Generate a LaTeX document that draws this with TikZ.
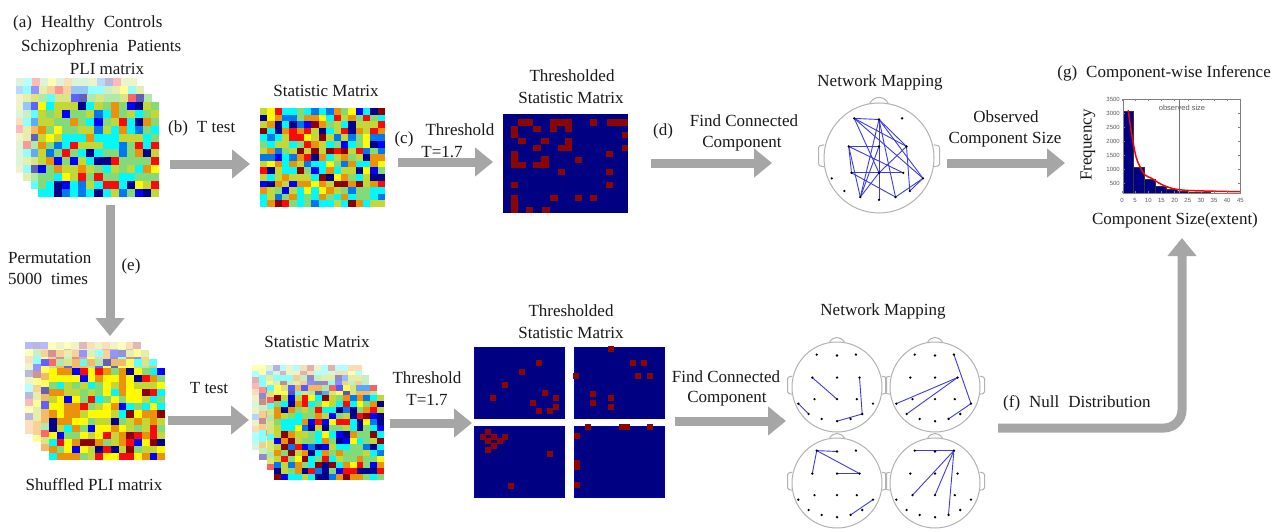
\documentclass[tikz,border=0pt]{standalone}
\usepackage{fontspec}
\setmainfont{Liberation Serif}
\setsansfont{Liberation Sans}
\usetikzlibrary{arrows.meta}
\definecolor{jdb}{RGB}{0,0,140}
\definecolor{jb}{RGB}{0,0,255}
\definecolor{jlb}{RGB}{0,120,240}
\definecolor{jc}{RGB}{0,250,250}
\definecolor{jg}{RGB}{130,218,120}
\definecolor{jyg}{RGB}{195,215,55}
\definecolor{jy}{RGB}{255,250,0}
\definecolor{jo}{RGB}{235,145,10}
\definecolor{jr}{RGB}{250,10,10}
\definecolor{jdr}{RGB}{140,0,0}
\definecolor{agray}{RGB}{166,166,166}
\definecolor{navyb}{RGB}{0,0,130}
\definecolor{darkr}{RGB}{140,5,5}
\definecolor{edgeb}{RGB}{60,60,225}
\definecolor{headg}{RGB}{178,178,178}
\definecolor{txt}{RGB}{25,25,25}
\pgfmathdeclarerandomlist{pli}{{jc}{jg}{jg}{jg}{jyg}{jyg}{jc}{jb}{jlb}{jy}{jo}{jdb}{jr}{jg}{jc}{jyg}}
\pgfmathdeclarerandomlist{stat}{{jdb}{jb}{jlb}{jc}{jc}{jg}{jyg}{jy}{jo}{jo}{jr}{jdr}{jc}{jg}{jyg}}
\pgfmathdeclarerandomlist{shuf}{{jy}{jy}{jo}{jo}{jr}{jdr}{jg}{jyg}{jyg}{jc}{jb}{jo}{jy}{jg}{jdb}}
\newcommand{\cellmat}[8]{%
  \pgfmathsetmacro{\cw}{#3/#5}\pgfmathsetmacro{\ch}{#4/#6}%
  \fill[white] (#1,#2) rectangle ++(#3,#4);
  \foreach \i in {1,...,#5}{\foreach \j in {1,...,#6}{%
    \pgfmathrandomitem{\cc}{#7}%
    \fill[fill=\cc!#8!white] ({#1+(\i-1)*\cw},{#2+(\j-1)*\ch}) rectangle ++({\cw+0.4},{\ch+0.4});
  }}}
\newcommand{\headmap}[4]{%
  \begin{scope}[shift={(#2,#3)}, x=#4pt, y=#4pt]
    \draw[headg, line width=1pt] (0,0) circle [radius=1];
    \draw[headg, line width=1pt] (-0.17,0.985) .. controls (-0.1,1.14) and (0.1,1.14) .. (0.17,0.985);
    \draw[headg, line width=1pt, rounded corners=1.5pt] (-0.995,0.24) -- (-1.1,0.22) -- (-1.1,-0.14) -- (-0.995,-0.16);
    \draw[headg, line width=1pt, rounded corners=1.5pt] (0.995,0.24) -- (1.1,0.22) -- (1.1,-0.14) -- (0.995,-0.16);
    \foreach \n/\ex/\ey in {1/-0.45/0.72, 2/0/0.70, 3/0.42/0.72, 4/-0.55/0.21, 5/0/0.21, 6/0.5/0.21,
      7/-0.86/-0.37, 8/-0.5/-0.27, 9/0/-0.27, 10/0.44/-0.27, 11/0.8/-0.37,
      12/-0.63/-0.6, 13/-0.34/-0.71, 14/0/-0.76, 15/0.3/-0.71, 16/0.56/-0.6}
      {\coordinate (#1e\n) at (\ex,\ey);}
  \end{scope}}
\newcommand{\headedges}[2]{%
  \foreach \p/\q in {#2}{\draw[edgeb, line width=0.9pt] (#1e\p) -- (#1e\q);}
  \foreach \n in {1,...,16}{\fill[black] (#1e\n) circle [radius=1.3pt];}}
\tikzset{
  lbl/.style={font=\fontsize{17}{20}\selectfont, inner sep=0pt, text=txt},
  tick/.style={font=\sffamily\fontsize{6}{7}\selectfont, inner sep=0pt, text=black!65},
  bigarrow/.style={draw=agray, line width=9pt, -{Triangle[width=28pt,length=18pt]}},
}
\begin{document}
\begin{tikzpicture}[x=1pt, y=-1pt]
\useasboundingbox (0,0) rectangle (1274,532);
\fill[white] (0,0) rectangle (1274,532);
\pgfmathsetseed{4711}
% ---------- top-left PLI stack
\cellmat{16}{78}{121}{95}{15}{12}{pli}{28}
\cellmat{23}{86}{121}{95}{15}{12}{pli}{42}
\cellmat{31}{94}{121}{95}{15}{12}{pli}{62}
\cellmat{38}{102}{121}{95}{15}{12}{pli}{100}
\node[lbl, anchor=west] (ta) at (13,23) {(a)\; Healthy\; Controls};
\node[lbl, anchor=west] (tb) at (21,47) {Schizophrenia\; Patients};
\node[lbl] (tc) at (107,69) {PLI matrix};
% ---------- top statistic matrix
\cellmat{260}{108}{125}{99}{17}{15}{stat}{100}
\node[lbl] (tsm) at (326,91) {Statistic Matrix};
% ---------- top thresholded
\fill[navyb] (503,114) rectangle (628,213);
\foreach \a/\b/\c/\d in {518/119/533/126, 550/119/572/126, 590/119/597/126, 607/119/628/126,
  511/126/518/138, 533/126/541/132, 550/126/557/132, 565/126/572/132, 622/132/628/138,
  518/138/526/144, 541/138/549/144, 565/138/572/145, 558/145/572/151, 533/145/541/151, 622/145/628/151,
  511/151/518/168, 518/162/526/168, 541/156/549/163, 533/162/549/168, 575/157/582/163, 606/151/613/157,
  558/169/565/175, 606/169/613/175, 511/182/518/188, 606/182/613/188,
  550/195/558/201, 575/195/582/201, 590/195/597/201, 511/195/518/213, 526/207/533/213, 542/207/550/213}
  {\fill[darkr] (\a,\b) rectangle (\c,\d);}
\node[lbl] (tth1) at (572,76) {Thresholded};
\node[lbl] (tth2) at (571,98) {Statistic Matrix};
% ---------- top head
\headmap{T}{879}{158}{55}
\headedges{T}{1/2, 1/6, 1/11, 1/9, 2/14, 2/13, 2/15, 2/6, 2/11, 4/5, 4/8, 4/13, 4/10, 8/9, 8/15, 8/10, 9/13, 11/15, 11/16, 6/16, 5/13, 6/9}
\node[lbl] (tnm) at (880,82) {Network Mapping};
% ---------- histogram
\begin{scope}
\foreach \a/\b/\t in {1123/1133/111, 1133/1144/167, 1144/1155/179, 1155/1166/186, 1166/1177/189.3, 1177/1188/190.7, 1188/1199/191.8, 1199/1210/192.3}
  {\filldraw[fill=navyb, draw=black!80, line width=0.4pt] (\a,193) rectangle (\b,\t);}
\draw[black!55, line width=0.9pt] (1179,99) -- (1179,193);
\draw[red, line width=1.5pt] plot[smooth, tension=0.6] coordinates {(1128.3,110) (1130,123.3) (1132.7,140) (1136,156.7) (1140,166.7) (1145,175) (1151.7,178.3) (1158.3,182.7) (1166.7,186.7) (1176.7,189.3) (1193.3,190.7) (1240,191.7)};
\draw[black!50, line width=0.5pt] (1123,99) rectangle (1240,193);
\foreach \v in {0,5,...,45}{
  \draw[black!50, line width=0.4pt] ({1122+\v*2.63},99) -- ++(0,2);
  \draw[black!50, line width=0.4pt] ({1122+\v*2.63},193) -- ++(0,-2);
  \node[tick] at ({1122+\v*2.63},200) {\v};}
\foreach \v/\yy in {3500/99.3, 3000/113.3, 2500/127.3, 2000/141.3, 1500/155.3, 1000/169.3, 500/183.3}{
  \draw[black!50, line width=0.4pt] (1123,\yy) -- ++(2,0);
  \draw[black!50, line width=0.4pt] (1240,\yy) -- ++(-2,0);
  \node[tick, anchor=east] at (1120,\yy) {\v};}
\node[font=\sffamily\fontsize{7.5}{8}\selectfont, text=black!65, inner sep=0pt] (obs) at (1182,108) {observed size};
\end{scope}
\node[lbl, anchor=east] (tg) at (1271,73) {(g)\; Component-wise Inference};
\node[lbl, rotate=90] (tfreq) at (1088,145) {Frequency};
\node[lbl] (tcs) at (1175,220) {Component Size(extent)};
% ---------- top arrows and labels
\coordinate (bA) at (170,164); \coordinate (bB) at (250,164);
\draw[bigarrow] (bA) -- (bB);
\node[lbl, anchor=west] (tbt) at (168,128) {(b)\; T test};
\coordinate (cA) at (398,162); \coordinate (cB) at (493,162);
\draw[bigarrow] (cA) -- (cB);
\node[lbl] (tcl) at (404,139) {(c)};
\node[lbl] (tcth) at (460,130) {Threshold};
\node[lbl] (tct) at (442,152) {T=1.7};
\coordinate (dA) at (651,163); \coordinate (dB) at (772,163);
\draw[bigarrow] (dA) -- (dB);
\node[lbl] (tdl) at (663,131) {(d)};
\node[lbl] (tdf) at (744,121) {Find Connected};
\node[lbl] (tdc) at (742,144) {Component};
\coordinate (oA) at (947,163); \coordinate (oB) at (1065,163);
\draw[bigarrow] (oA) -- (oB);
\node[lbl] (tob) at (1006,117) {Observed};
\node[lbl] (tocs) at (1005,140) {Component Size};
% ---------- permutation arrow
\coordinate (eA) at (110,205); \coordinate (eB) at (110,336);
\draw[bigarrow] (eA) -- (eB);
\node[lbl, anchor=west] (tperm) at (8,258) {Permutation};
\node[lbl, anchor=west] (t5000) at (8,279) {5000\; times};
\node[lbl] (tel) at (131,266) {(e)};
% ---------- bottom shuffled stack
\cellmat{25}{342}{116}{92}{15}{13}{shuf}{28}
\cellmat{33}{350}{116}{92}{15}{13}{shuf}{42}
\cellmat{41}{359}{116}{92}{15}{13}{shuf}{62}
\cellmat{49}{368}{116}{92}{15}{13}{shuf}{100}
\node[lbl] (tshuf) at (94,485) {Shuffled PLI matrix};
% ---------- bottom statistic stack
\cellmat{252}{365}{110}{85}{16}{14}{stat}{30}
\cellmat{259}{375}{110}{85}{16}{14}{stat}{45}
\cellmat{267}{385}{110}{85}{16}{14}{stat}{65}
\cellmat{274}{395}{110}{85}{16}{14}{stat}{100}
\node[lbl] (tbsm) at (317,342) {Statistic Matrix};
\coordinate (fA) at (168,420); \coordinate (fB) at (249,420);
\draw[bigarrow] (fA) -- (fB);
\node[lbl] (tbtt) at (209,388) {T test};
\coordinate (gA) at (390,423); \coordinate (gB) at (472,423);
\draw[bigarrow] (gA) -- (gB);
\node[lbl] (tbth) at (427,378) {Threshold};
\node[lbl] (tbt17) at (427,400) {T=1.7};
% ---------- bottom thresholded panels
\foreach \x/\y in {474/347, 574/347, 474/426, 574/426}
  {\filldraw[fill=navyb, draw=blue!35!navyb, line width=0.6pt] (\x,\y) rectangle ++(90,71);}
\foreach \a/\b in {539/363, 522/372, 505/385, 493/398, 545/393, 533/403, 556/398, 556/407, 539/411, 550/411,
  611/349, 633/363, 644/363, 638/376, 650/376, 576/376, 593/394, 611/398, 593/403, 611/407,
  483/437, 488/432, 494/437, 505/437, 488/441, 500/441, 494/446, 488/450, 550/454, 511/486,
  588/427, 622/427, 627/427, 650/427, 577/436, 577/463, 577/467, 577/485}
  {\fill[darkr] ({\a-2.8},{\b-2.8}) rectangle ++(5.6,5.6);}
\node[lbl] (tbth1) at (571,311) {Thresholded};
\node[lbl] (tbth2) at (571,333) {Statistic Matrix};
\coordinate (hA) at (675,421); \coordinate (hB) at (786,421);
\draw[bigarrow] (hA) -- (hB);
\node[lbl] (tbf) at (726,377) {Find Connected};
\node[lbl] (tbc) at (727,399) {Component};
% ---------- bottom heads
\node[lbl] (tbnm) at (883,311) {Network Mapping};
\headmap{A}{837}{387}{45}
\headedges{A}{4/9, 6/16, 16/14, 7/12}
\headmap{B}{935}{387}{45}
\headedges{B}{3/11, 6/7, 6/12, 11/15}
\headmap{C}{837}{483}{45}
\headedges{C}{1/2, 1/4, 1/6, 5/6, 11/15}
\headmap{D}{935}{483}{45}
\headedges{D}{1/3, 3/8, 3/9, 3/15}
% ---------- null distribution arrow
\coordinate (nA) at (998,428); \coordinate (nB) at (1182,238);
\draw[bigarrow, rounded corners=18pt] (nA) -| (nB);
\node[lbl, anchor=west] (tnull) at (1003,403) {(f)\; Null\; Distribution};
\end{tikzpicture}
\end{document}
